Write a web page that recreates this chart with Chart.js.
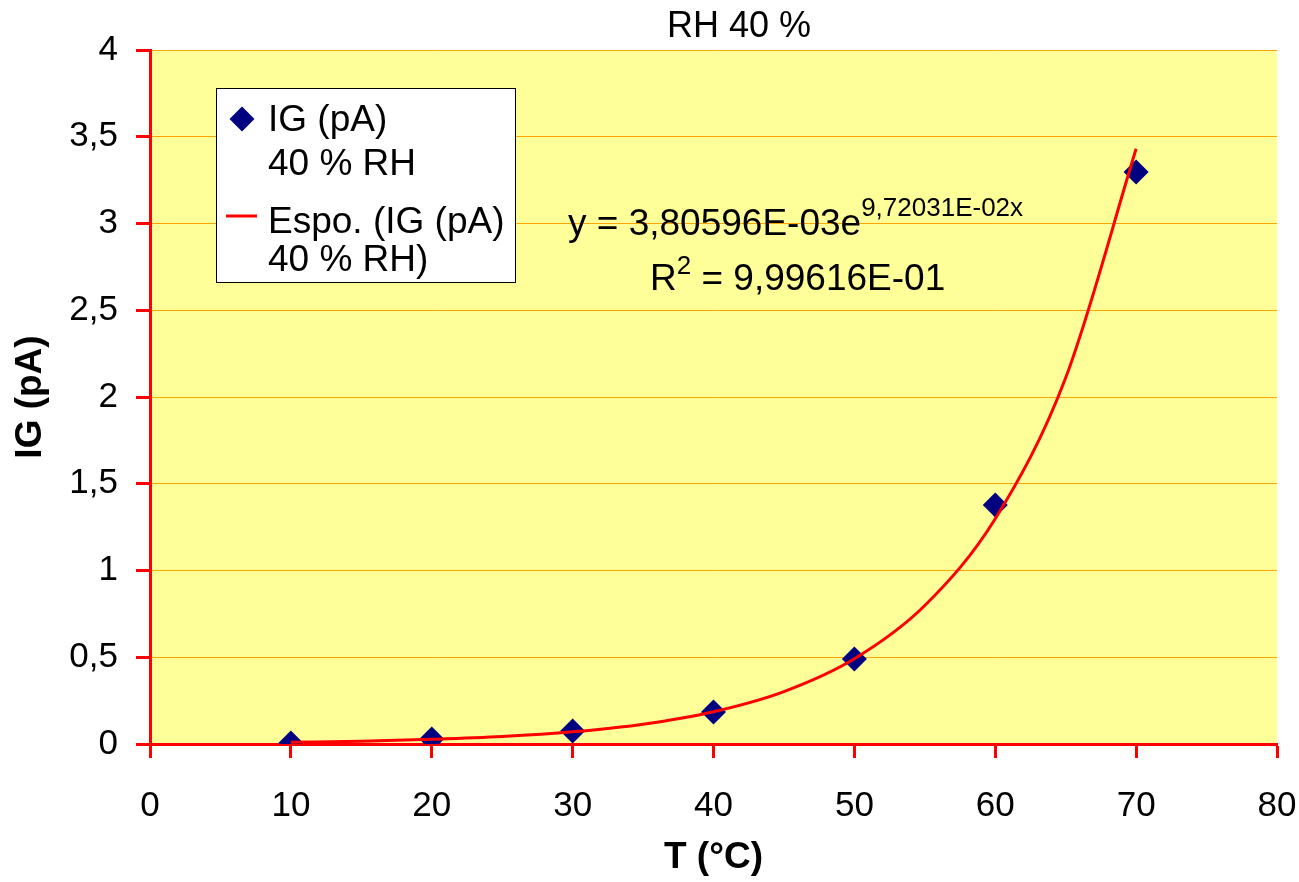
<!DOCTYPE html>
<html>
<head>
<meta charset="utf-8">
<title>RH 40 %</title>
<script src="https://cdn.jsdelivr.net/npm/chart.js@4"></script>
<style>
  body { margin: 0; background: #ffffff; }
  #box { width: 1299px; height: 882px; }
</style>
</head>
<body>
<div id="box"><canvas id="grafico" width="1299" height="882"></canvas></div>
<script>
// dados
const tempC = [10, 20, 30, 40, 50, 60, 70];
const igPA = [0.006, 0.029, 0.075, 0.184, 0.49, 1.378, 3.297];

// linha de tendência exponencial
const trendT = [10, 15, 20, 25, 30, 35, 40, 45, 50, 55, 60, 65, 70];
const trendIG = [0.010, 0.016, 0.027, 0.043, 0.070, 0.114, 0.186, 0.302, 0.491, 0.798, 1.298, 2.111, 3.431];

const xTicks = [0, 10, 20, 30, 40, 50, 60, 70, 80];
const yTicks = [0, 0.5, 1, 1.5, 2, 2.5, 3, 3.5, 4];

const chartTitle = "RH 40 %";
const legendLines = ["IG (pA)", "40 % RH", "Espo. (IG (pA)", "40 % RH)"];
const eqMain = "y = 3,80596E-03e";
const eqExp = "9,72031E-02x";
const r2Text = " = 9,99616E-01";

const FONT = "'Liberation Sans', Arial, sans-serif";

const fundo = {
  id: "fundo",
  beforeDraw(chart) {
    const { ctx, chartArea: a } = chart;
    ctx.save();
    ctx.fillStyle = "#FFFF99";
    ctx.fillRect(a.left, a.top, a.right - a.left, a.bottom - a.top);
    ctx.restore();
  }
};

const extras = {
  id: "extras",
  afterDraw(chart) {
    const ctx = chart.ctx;
    ctx.save();
    ctx.fillStyle = "#000";
    ctx.textBaseline = "alphabetic";

    // título
    ctx.font = "36px " + FONT;
    ctx.textAlign = "center";
    ctx.fillText(chartTitle, 739, 37);

    // legenda
    ctx.textAlign = "left";
    ctx.fillStyle = "#fff";
    ctx.fillRect(216, 88, 299, 194);
    ctx.strokeStyle = "#000";
    ctx.lineWidth = 1;
    ctx.strokeRect(216.5, 88.5, 299, 194);

    ctx.fillStyle = "#000080";
    ctx.beginPath();
    ctx.moveTo(242, 106.5);
    ctx.lineTo(254.5, 119);
    ctx.lineTo(242, 131.5);
    ctx.lineTo(229.5, 119);
    ctx.closePath();
    ctx.fill();

    ctx.strokeStyle = "#FF0000";
    ctx.lineWidth = 3;
    ctx.beginPath();
    ctx.moveTo(226, 216);
    ctx.lineTo(257, 216);
    ctx.stroke();

    ctx.fillStyle = "#000";
    ctx.font = "37px " + FONT;
    const baseY = [131, 175, 233, 271];
    legendLines.forEach((t, i) => ctx.fillText(t, 268, baseY[i]));

    // equação
    ctx.font = "37px " + FONT;
    ctx.fillText(eqMain, 568, 235);
    const w1 = ctx.measureText(eqMain).width;
    ctx.font = "26px " + FONT;
    ctx.fillText(eqExp, 568 + w1, 216);

    ctx.font = "37px " + FONT;
    ctx.fillText("R", 650, 290);
    const wr = ctx.measureText("R").width;
    ctx.font = "26px " + FONT;
    ctx.fillText("2", 650 + wr, 274);
    const w2 = ctx.measureText("2").width;
    ctx.font = "37px " + FONT;
    ctx.fillText(r2Text, 650 + wr + w2, 290);
    ctx.restore();
  }
};

new Chart(document.getElementById("grafico"), {
  type: "scatter",
  data: {
    datasets: [
      {
        label: "Espo. (IG (pA) 40 % RH)",
        data: trendT.map((t, i) => ({ x: t, y: trendIG[i] })),
        showLine: true,
        borderColor: "#FF0000",
        borderWidth: 3,
        pointRadius: 0,
        cubicInterpolationMode: "monotone",
        order: 0
      },
      {
        label: "IG (pA) 40 % RH",
        data: tempC.map((t, i) => ({ x: t, y: igPA[i] })),
        pointStyle: "rectRot",
        pointRadius: 12.5,
        backgroundColor: "#000080",
        borderColor: "#000080",
        borderWidth: 0,
        order: 1
      }
    ]
  },
  options: {
    responsive: false,
    animation: false,
    layout: { padding: { top: 50, right: 22, left: 0, bottom: 0 } },
    plugins: {
      legend: { display: false },
      title: { display: false },
      tooltip: { enabled: false }
    },
    scales: {
      x: {
        type: "linear",
        min: 0,
        max: 80,
        afterBuildTicks: s => { s.ticks = xTicks.map(v => ({ value: v })); },
        afterFit: s => { s.height = 138; s.paddingLeft = 0; s.paddingRight = 0; },
        ticks: { color: "#000", font: { family: FONT, size: 35 }, padding: 27 },
        grid: { drawOnChartArea: false, drawTicks: true, tickLength: 14, tickColor: "#FF0000", tickWidth: 3 },
        border: { color: "#FF0000", width: 3 },
        title: { display: true, text: "T (°C)", color: "#000", font: { family: FONT, size: 37, weight: "bold" }, padding: { top: 0, bottom: 2 } }
      },
      y: {
        min: 0,
        max: 4,
        afterBuildTicks: s => { s.ticks = yTicks.map(v => ({ value: v })); },
        afterFit: s => { s.width = 150; },
        ticks: {
          color: "#000",
          font: { family: FONT, size: 35 },
          padding: 18,
          callback: v => String(v).replace(".", ",")
        },
        grid: { color: "#FFA500", lineWidth: 1, drawTicks: true, tickLength: 14, tickColor: "#FF0000", tickWidth: 3 },
        border: { color: "#FF0000", width: 3 },
        title: { display: true, text: "IG (pA)", color: "#000", font: { family: FONT, size: 37, weight: "bold" }, padding: { top: 9, bottom: 0 } }
      }
    }
  },
  plugins: [fundo, extras]
});
</script>
</body>
</html>
